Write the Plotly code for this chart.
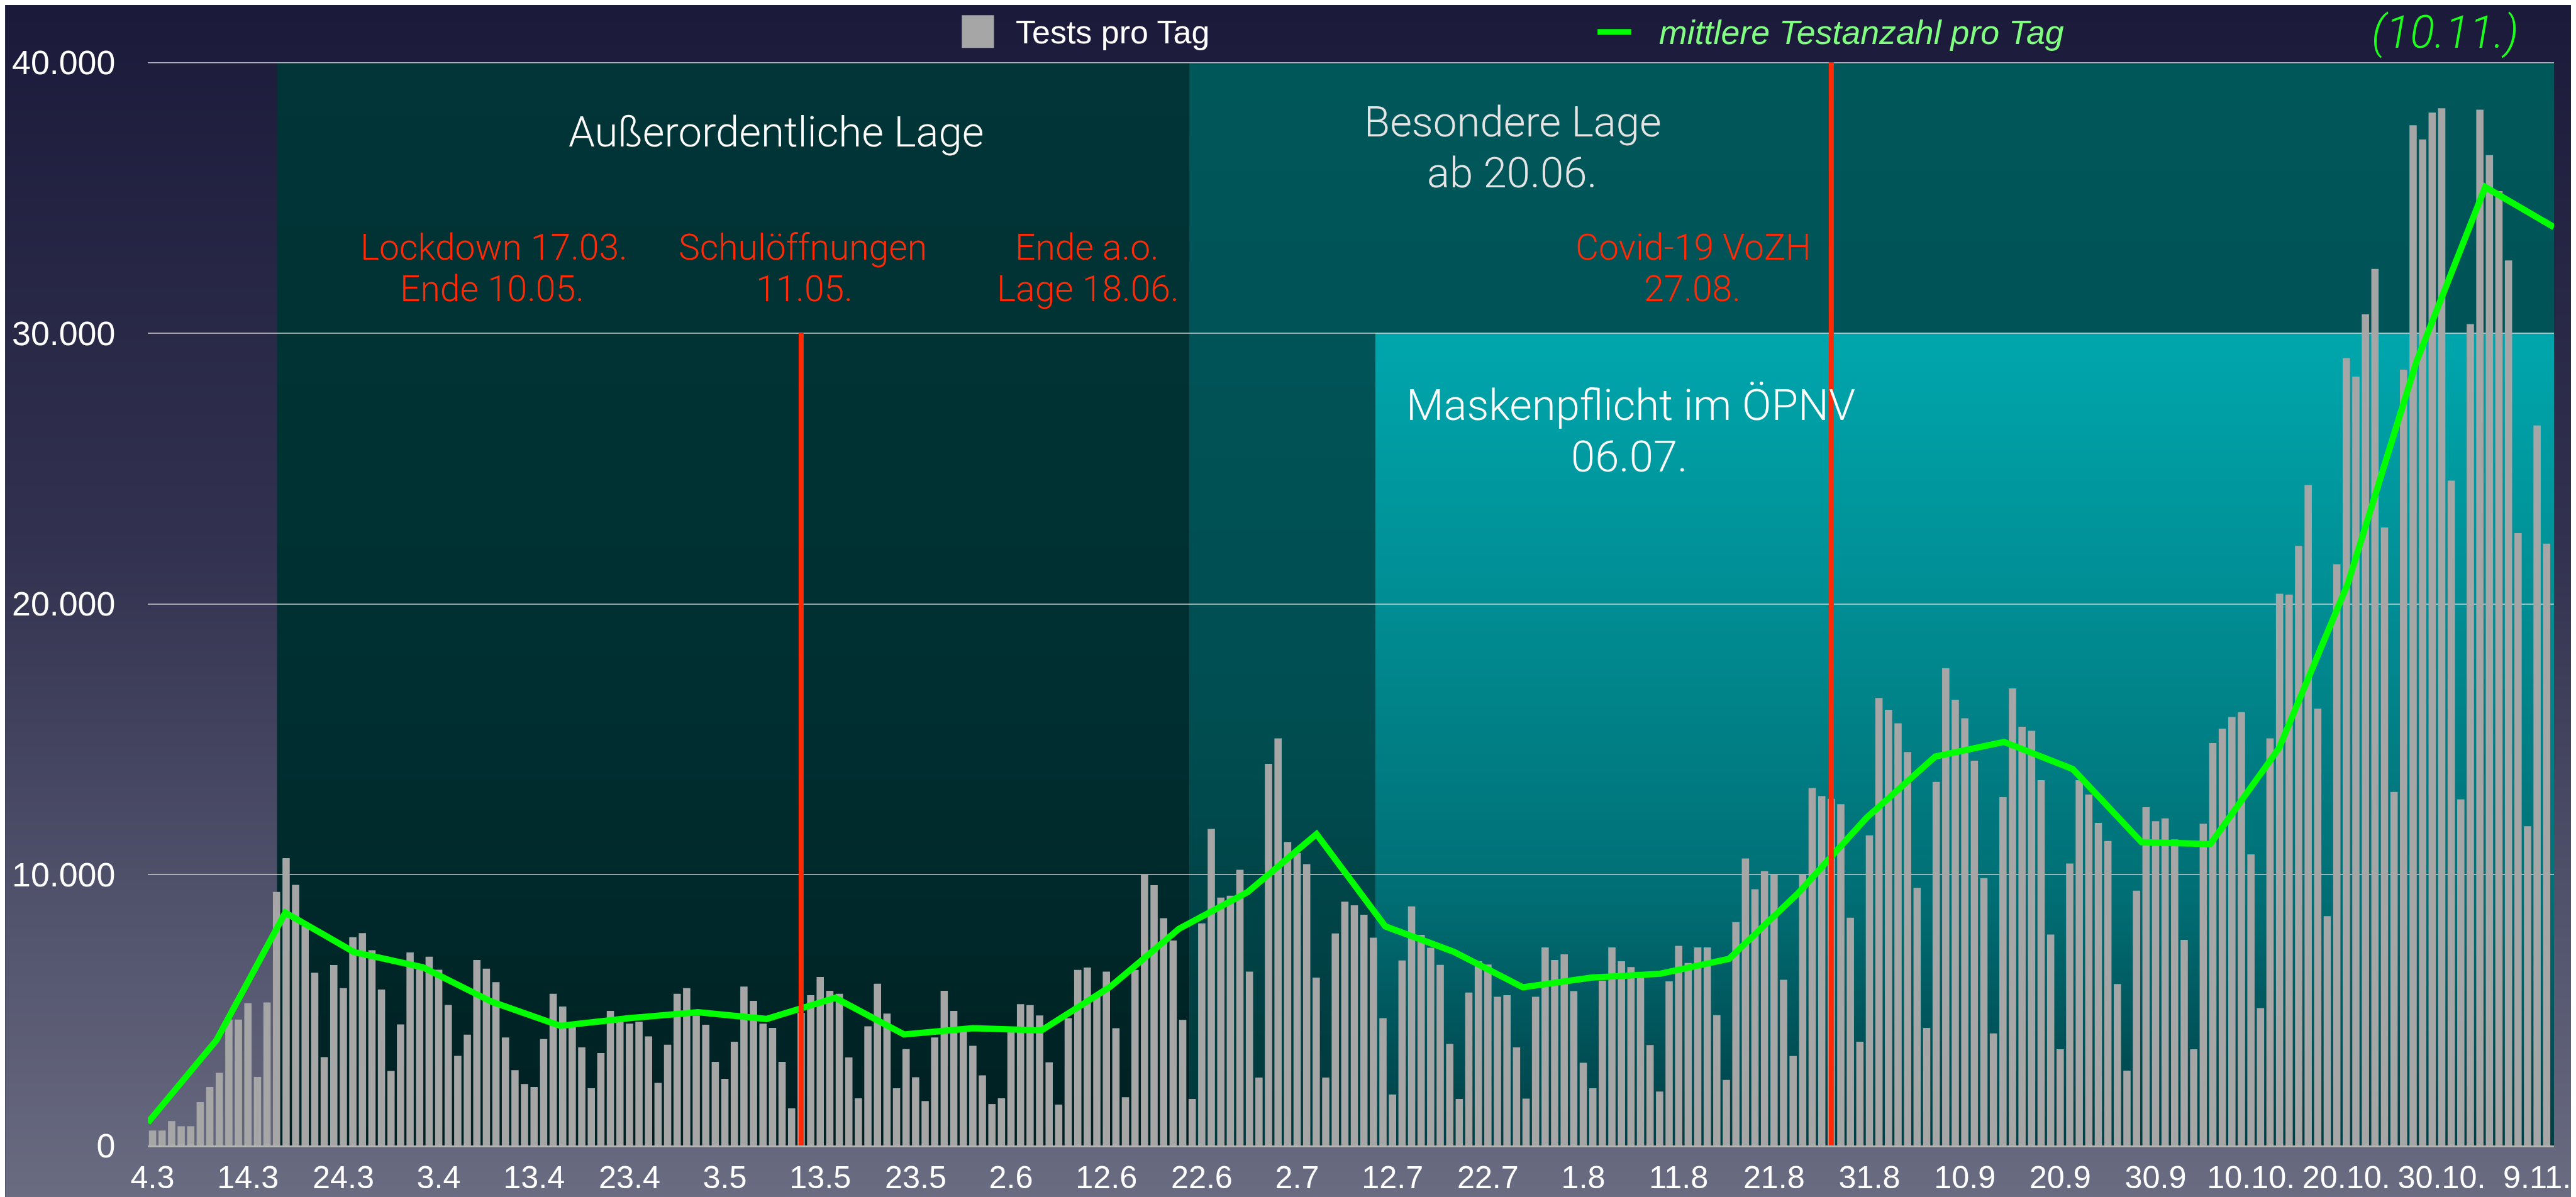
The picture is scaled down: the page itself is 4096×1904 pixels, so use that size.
import zlib, struct, base64
import plotly.graph_objects as go

# ---------------- data ----------------
tick_labels = ["4.3", "14.3", "24.3", "3.4", "13.4", "23.4", "3.5", "13.5", "23.5",
               "2.6", "12.6", "22.6", "2.7", "12.7", "22.7", "1.8", "11.8", "21.8",
               "31.8", "10.9", "20.9", "30.9", "10.10.", "20.10.", "30.10.", "9.11."]

tests_per_day = [
    550, 550, 900, 710, 710, 1600, 2160, 2680, 4650, 4650,
    5250, 2530, 5280, 9360, 10610, 9620, 8100, 6380, 3260, 6660,
    5810, 7690, 7840, 7210, 5760, 2750, 4470, 7130, 6500, 6970,
    6490, 5190, 3310, 4090, 6850, 6530, 6030, 3990, 2780, 2270,
    2160, 3930, 5600, 5130, 4400, 3620, 2110, 3410, 4970, 4570,
    4500, 4570, 4030, 2310, 3720, 5600, 5810, 4800, 4460, 3090,
    2460, 3830, 5870, 5340, 4500, 4340, 3090, 1370, 4900, 5550,
    6220, 5710, 5600, 3250, 1740, 4400, 5970, 4870, 2110, 3560,
    2520, 1640, 3990, 5710, 4970, 4200, 3680, 2590, 1530, 1740,
    4200, 5220, 5180, 4800, 3070, 1510, 4700, 6480, 6570, 5500,
    6420, 4330, 1780, 6480, 10020, 9610, 8390, 7570, 4640, 1720,
    8200, 11690, 9150, 9220, 10180, 6420, 2510, 14090, 15030, 11210,
    10800, 10390, 6200, 2510, 7830, 9000, 8870, 8520, 7670, 4700,
    1880, 6830, 8830, 7780, 7300, 6670, 3750, 1720, 5650, 6800,
    6680, 5490, 5550, 3620, 1730, 5490, 7310, 6850, 7060, 5700,
    3050, 2110, 6090, 7310, 6800, 6590, 6200, 3710, 1990, 6060,
    7370, 6740, 7310, 7310, 4810, 2420, 8250, 10600, 9460, 10130,
    9980, 6120, 3300, 9980, 13200, 12900, 12800, 12600, 8410, 3830,
    11450, 16525, 16090, 15590, 14525, 9510, 4340, 13425, 17625, 16460,
    15775, 14210, 9875, 4140, 12860, 16875, 15460, 15310, 13490, 7790,
    3550, 10410, 13490, 12960, 11910, 11240, 5960, 2760, 9410, 12490,
    11975, 12075, 11300, 7590, 3550, 11880, 14860, 15390, 15820, 16000,
    10750, 5070, 15030, 20370, 20340, 22140, 24390, 16130, 8470, 21460,
    29070, 28390, 30690, 32370, 22820, 13050, 28650, 37670, 37150, 38140,
    38300, 24550, 12780, 30330, 38250, 36570, 35240, 32680, 22610, 11790,
    26590, 22220,
]

weekly_avg = [840, 3890, 8600, 7140, 6580, 5310, 4420, 4700, 4920, 4670,
              5450, 4100, 4330, 4250, 5860, 8000, 9360, 11500, 8090, 7150,
              5840, 6200, 6340, 6890, 9300, 12100, 14360, 14900, 13900, 11200,
              11130, 14670, 20740, 28950, 35390, 33910]

y_ticks = [0, 10000, 20000, 30000, 40000]

# event positions (bar index units)
aol_start, aol_end = 13.05, 108.7      # Außerordentliche Lage
mask_start = 128.2                     # Maskenpflicht im ÖPNV
school_line, vozh_line = 68, 176       # red markers

# ---------------- geometry ----------------
W, H = 4096, 1904
S = 0.839
L, R, T, B = 270, 4831, 109, 2162      # plot box in reference px
n_days = len(tests_per_day)
x_lo, x_hi = -0.5, 251.77
y_hi = 40000

def fx(xr):
    return (xr - L) / (R - L)

def fy(yr):
    return (B - yr) / (B - T)

def fs(size_ref):
    return size_ref * S

FONT = "Liberation Sans"
LIGHT = "Roboto"

# ---------------- gradient images ----------------
def gradient_png(stops, n=256):
    rows = []
    for k in range(n):
        t = k / (n - 1)
        for j in range(len(stops) - 1):
            p0, c0 = stops[j]
            p1, c1 = stops[j + 1]
            if p0 <= t <= p1:
                u = 0 if p1 == p0 else (t - p0) / (p1 - p0)
                c = [int(round(c0[i] + (c1[i] - c0[i]) * u)) for i in range(3)]
                break
        rows.append(b"\x00" + bytes(c) * 2)
    raw = b"".join(rows)

    def chunk(tag, data):
        return (struct.pack(">I", len(data)) + tag + data +
                struct.pack(">I", zlib.crc32(tag + data) & 0xffffffff))

    ihdr = struct.pack(">IIBBBBB", 2, n, 8, 2, 0, 0, 0)
    png = (b"\x89PNG\r\n\x1a\n" + chunk(b"IHDR", ihdr) +
           chunk(b"IDAT", zlib.compress(raw, 9)) + chunk(b"IEND", b""))
    return "data:image/png;base64," + base64.b64encode(png).decode()

page_grad = gradient_png([(0, (27, 26, 58)), (0.45, (50, 50, 80)), (1, (106, 108, 130))])
aol_grad = gradient_png([(0, (1, 53, 55)), (0.6, (0, 47, 49)), (1, (0, 32, 34))])
bes_grad = gradient_png([(0, (0, 87, 90)), (0.6, (0, 78, 81)), (1, (0, 56, 60))])
mask_grad = gradient_png([(0, (0, 166, 173)), (0.35, (0, 140, 146)),
                          (0.7, (0, 110, 116)), (1, (0, 62, 68))])

plot_w = (R - L) * S
plot_h = (B - T) * S
ml, mt = L * S, T * S
mr, mb = W - R * S, H - B * S

images = [
    dict(source=page_grad, xref="paper", yref="paper",
         x=-ml / plot_w, y=1 + mt / plot_h, sizex=W / plot_w, sizey=H / plot_h,
         xanchor="left", yanchor="top", sizing="stretch", layer="below"),
    dict(source=aol_grad, xref="x", yref="y", x=aol_start, y=y_hi,
         sizex=aol_end - aol_start, sizey=y_hi, xanchor="left", yanchor="top",
         sizing="stretch", layer="below"),
    dict(source=bes_grad, xref="x", yref="y", x=aol_end, y=y_hi,
         sizex=x_hi - aol_end, sizey=y_hi, xanchor="left", yanchor="top",
         sizing="stretch", layer="below"),
    dict(source=mask_grad, xref="x", yref="y", x=mask_start, y=30000,
         sizex=x_hi - mask_start, sizey=30000, xanchor="left", yanchor="top",
         sizing="stretch", layer="below"),
]

# ---------------- traces ----------------
fig = go.Figure()
fig.add_trace(go.Bar(
    x=list(range(n_days)), y=tests_per_day,
    marker=dict(color="#a6a6a6", line=dict(width=0)),
    name="Tests pro Tag", hoverinfo="skip",
))
fig.add_trace(go.Scatter(
    x=list(range(len(weekly_avg))), y=weekly_avg, xaxis="x2",
    mode="lines", line=dict(color="#00ff00", width=10),
    name="mittlere Testanzahl pro Tag", hoverinfo="skip",
))

# ---------------- shapes ----------------
red = "#ff2a06"
shapes = [
    dict(type="line", xref="x", yref="y", x0=x_lo, x1=x_hi, y0=y_hi, y1=y_hi,
         line=dict(color="#b8b8b8", width=3), layer="between"),
    dict(type="line", xref="x", yref="y", x0=school_line, x1=school_line, y0=0, y1=30000,
         line=dict(color=red, width=8), layer="above"),
    dict(type="line", xref="x", yref="y", x0=vozh_line, x1=vozh_line, y0=0, y1=y_hi,
         line=dict(color=red, width=8), layer="above"),
    # legend symbols
    dict(type="rect", xref="paper", yref="paper",
         x0=fx(1813), x1=fx(1874), y0=fy(82), y1=fy(20),
         fillcolor="#a6a6a6", line=dict(width=0), layer="above"),
    dict(type="rect", xref="paper", yref="paper",
         x0=fx(3018), x1=fx(3082), y0=fy(57), y1=fy(46),
         fillcolor="#00ff00", line=dict(width=0), layer="above"),
]

# ---------------- annotations ----------------
def ann(text, xr, yr, size, color, xanchor="center", italic=False,
        family=FONT, weight=400):
    return dict(text=text, xref="paper", yref="paper", x=fx(xr), y=fy(yr),
                xanchor=xanchor, yanchor="middle", showarrow=False,
                font=dict(family=family, size=fs(size), color=color, weight=weight,
                          style="italic" if italic else "normal"))

white = "#ffffff"
annotations = [
    ann("Außerordentliche Lage", 1462, 241, 80, white, family=LIGHT, weight=300),
    ann("Besondere Lage", 2858, 222, 80, "#e4e4e4", family=LIGHT, weight=300),
    ann("ab 20.06.", 2856, 319, 80, "#e4e4e4", family=LIGHT, weight=300),
    ann("Lockdown 17.03.", 926, 460, 68, red, family=LIGHT, weight=300),
    ann("Ende 10.05.", 923, 539, 68, red, family=LIGHT, weight=300),
    ann("Schulöffnungen", 1512, 460, 68, red, family=LIGHT, weight=300),
    ann("11.05.", 1514, 539, 68, red, family=LIGHT, weight=300),
    ann("Ende a.o.", 2051, 460, 68, red, family=LIGHT, weight=300),
    ann("Lage 18.06.", 2052, 539, 68, red, family=LIGHT, weight=300),
    ann("Covid-19 VoZH", 3200, 460, 68, red, family=LIGHT, weight=300),
    ann("27.08.", 3198, 539, 68, red, family=LIGHT, weight=300),
    ann("Maskenpflicht im ÖPNV", 3081, 759, 82, white, family=LIGHT, weight=300),
    ann("06.07.", 3079, 857, 82, white, family=LIGHT, weight=300),
    ann("(10.11.)", 4625, 52, 86, "#1cff1c", italic=True, family=LIGHT, weight=300),
    ann("Tests pro Tag", 1913, 52, 62, white, xanchor="left"),
    ann("mittlere Testanzahl pro Tag", 3132, 52, 64, "#80ff80", xanchor="left", italic=True),
]

fig.update_layout(
    width=W, height=H,
    margin=dict(l=ml, r=mr, t=mt, b=mb, pad=0, autoexpand=False),
    paper_bgcolor="#3a3a58", plot_bgcolor="rgba(0,0,0,0)",
    separators=",.",
    showlegend=False,
    bargap=0.237,
    images=images, shapes=shapes, annotations=annotations,
    font=dict(family=FONT, color=white),
    xaxis=dict(range=[x_lo, x_hi], tickmode="array",
               tickvals=list(range(0, n_days, 10)), ticktext=tick_labels,
               tickfont=dict(family=FONT, size=fs(60), color=white),
               ticks="outside", ticklen=5, tickcolor="rgba(0,0,0,0)",
               showgrid=False, zeroline=False, automargin=False,
               showline=True, linecolor="#b4b4b4", linewidth=3),
    xaxis2=dict(range=[0, len(weekly_avg) - 1], overlaying="x", visible=False),
    yaxis=dict(range=[0, y_hi], tickmode="array", tickvals=y_ticks,
               tickformat=",d", automargin=False,
               tickfont=dict(family=FONT, size=fs(64), color=white),
               ticks="outside", ticklen=40, tickcolor="rgba(0,0,0,0)",
               showgrid=True, gridcolor="rgba(215,215,215,0.7)", gridwidth=1.5,
               zeroline=False, showline=False),
)

fig.write_html("out.html")
